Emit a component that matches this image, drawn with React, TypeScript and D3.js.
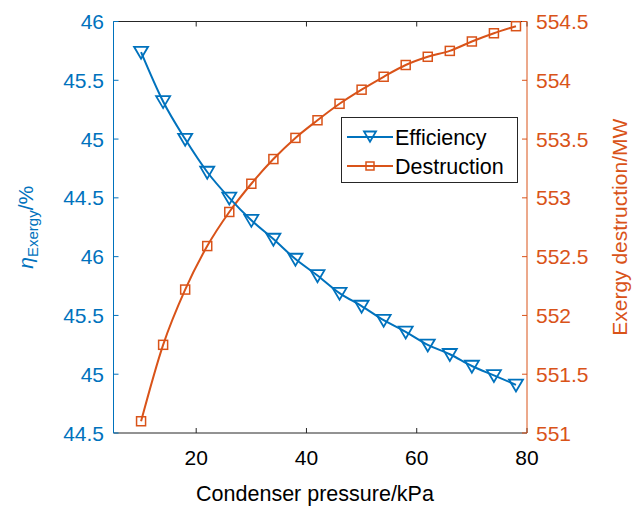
import React from "react";
import * as d3 from "d3";

const pressure = [10, 14, 18, 22, 26, 30, 34, 38, 42, 46, 50, 54, 58, 62, 66, 70, 74, 78];
const efficiency = [45.74, 45.32, 45.0, 44.72, 44.5, 44.31, 44.15, 43.98, 43.84, 43.69, 43.58, 43.46, 43.36, 43.25, 43.17, 43.07, 42.99, 42.91];
const destruction = [551.1, 551.75, 552.22, 552.59, 552.88, 553.12, 553.33, 553.51, 553.66, 553.8, 553.92, 554.03, 554.13, 554.2, 554.25, 554.33, 554.4, 554.46];

const xTicks = [20, 40, 60, 80];
const leftTickValues = [46, 45.5, 45, 44.5, 44, 43.5, 43, 42.5];
const leftTickLabels = ["46", "45.5", "45", "44.5", "46", "45.5", "45", "44.5"];
const rightTicks = [551, 551.5, 552, 552.5, 553, 553.5, 554, 554.5];

const BLUE = "#0072BD";
const ORANGE = "#D95319";
const DARK = "#262626";
const FONT = "'Liberation Sans', Arial, Helvetica, sans-serif";

export default function App() {
  const W = 637, H = 507;
  const L = 113.5, R = 527, T = 21.5, B = 433;
  const x = d3.scaleLinear().domain([5, 80]).range([L, R]);
  const yL = d3.scaleLinear().domain([42.5, 46]).range([B, T]);
  const yR = d3.scaleLinear().domain([551, 554.5]).range([B, T]);

  const lineE = d3.line<number>().x((_, i) => x(pressure[i])).y((d) => yL(d)).curve(d3.curveMonotoneX);
  const lineD = d3.line<number>().x((_, i) => x(pressure[i])).y((d) => yR(d)).curve(d3.curveMonotoneX);

  const tri = (cx: number, cy: number, s = 7) =>
    `M${cx - s},${cy - s * 0.75} L${cx + s},${cy - s * 0.75} L${cx},${cy + s * 0.95} Z`;

  const tickLen = 5;
  const fs = 21;

  return (
    <svg width={W} height={H} style={{ position: "absolute", left: 0, top: 0, background: "#fff" }} fontFamily={FONT}>
      <rect x={0} y={0} width={W} height={H} fill="#fff" />
      {/* top & bottom axes */}
      <line x1={L} x2={R} y1={T} y2={T} stroke={DARK} strokeWidth={1} />
      <line x1={L} x2={R} y1={B} y2={B} stroke={DARK} strokeWidth={1} />
      {xTicks.map((t) => (
        <g key={t}>
          <line x1={x(t)} x2={x(t)} y1={B} y2={B - tickLen} stroke={DARK} />
          <line x1={x(t)} x2={x(t)} y1={T} y2={T + tickLen} stroke={DARK} />
          <text x={x(t)} y={465} textAnchor="middle" fontSize={fs} fill="#000">{t}</text>
        </g>
      ))}
      <text x={315} y={501} textAnchor="middle" fontSize={21.5} fill="#000">Condenser pressure/kPa</text>

      {/* left axis */}
      <line x1={L} x2={L} y1={T} y2={B} stroke={BLUE} strokeWidth={1} />
      {leftTickValues.map((t, i) => (
        <g key={"l" + i}>
          <line x1={L} x2={L + tickLen} y1={yL(t)} y2={yL(t)} stroke={BLUE} />
          <text x={104} y={yL(t) + 7.5} textAnchor="end" fontSize={fs} fill={BLUE}>{leftTickLabels[i]}</text>
        </g>
      ))}
      <text transform={`translate(33,${(T + B) / 2}) rotate(-90)`} textAnchor="middle" fill={BLUE} fontSize={21}>
        <tspan fontStyle="italic">η</tspan>
        <tspan fontSize={15} dy={5}>Exergy</tspan>
        <tspan dy={-5}>/%</tspan>
      </text>

      {/* right axis */}
      <line x1={R} x2={R} y1={T} y2={B} stroke={ORANGE} strokeWidth={1} />
      {rightTicks.map((t) => (
        <g key={"r" + t}>
          <line x1={R} x2={R - tickLen} y1={yR(t)} y2={yR(t)} stroke={ORANGE} />
          <text x={536} y={yR(t) + 7.5} textAnchor="start" fontSize={fs} fill={ORANGE}>{t}</text>
        </g>
      ))}
      <text transform={`translate(627,${(T + B) / 2}) rotate(-90)`} textAnchor="middle" fill={ORANGE} fontSize={21}>
        Exergy destruction/MW
      </text>

      {/* series */}
      <path d={lineD(destruction) || ""} fill="none" stroke={ORANGE} strokeWidth={2} />
      {destruction.map((d, i) => (
        <rect key={"s" + i} x={x(pressure[i]) - 4.5} y={yR(d) - 4.5} width={9} height={9} fill="none" stroke={ORANGE} strokeWidth={1.5} />
      ))}
      <path d={lineE(efficiency) || ""} fill="none" stroke={BLUE} strokeWidth={2} />
      {efficiency.map((d, i) => (
        <path key={"t" + i} d={tri(x(pressure[i]), yL(d))} fill="none" stroke={BLUE} strokeWidth={1.8} />
      ))}

      {/* legend */}
      <g>
        <rect x={341.5} y={117.5} width={176} height={65} fill="#fff" stroke={DARK} strokeWidth={1} />
        <line x1={347} x2={393} y1={137} y2={137} stroke={BLUE} strokeWidth={2} />
        <path d={tri(370, 136, 6)} fill="none" stroke={BLUE} strokeWidth={1.8} />
        <text x={395} y={144.5} fontSize={21.5} fill="#000">Efficiency</text>
        <line x1={347} x2={393} y1={166} y2={166} stroke={ORANGE} strokeWidth={2} />
        <rect x={366} y={162} width={8} height={8} fill="none" stroke={ORANGE} strokeWidth={1.5} />
        <text x={395} y={173.5} fontSize={21.5} fill="#000">Destruction</text>
      </g>
    </svg>
  );
}
